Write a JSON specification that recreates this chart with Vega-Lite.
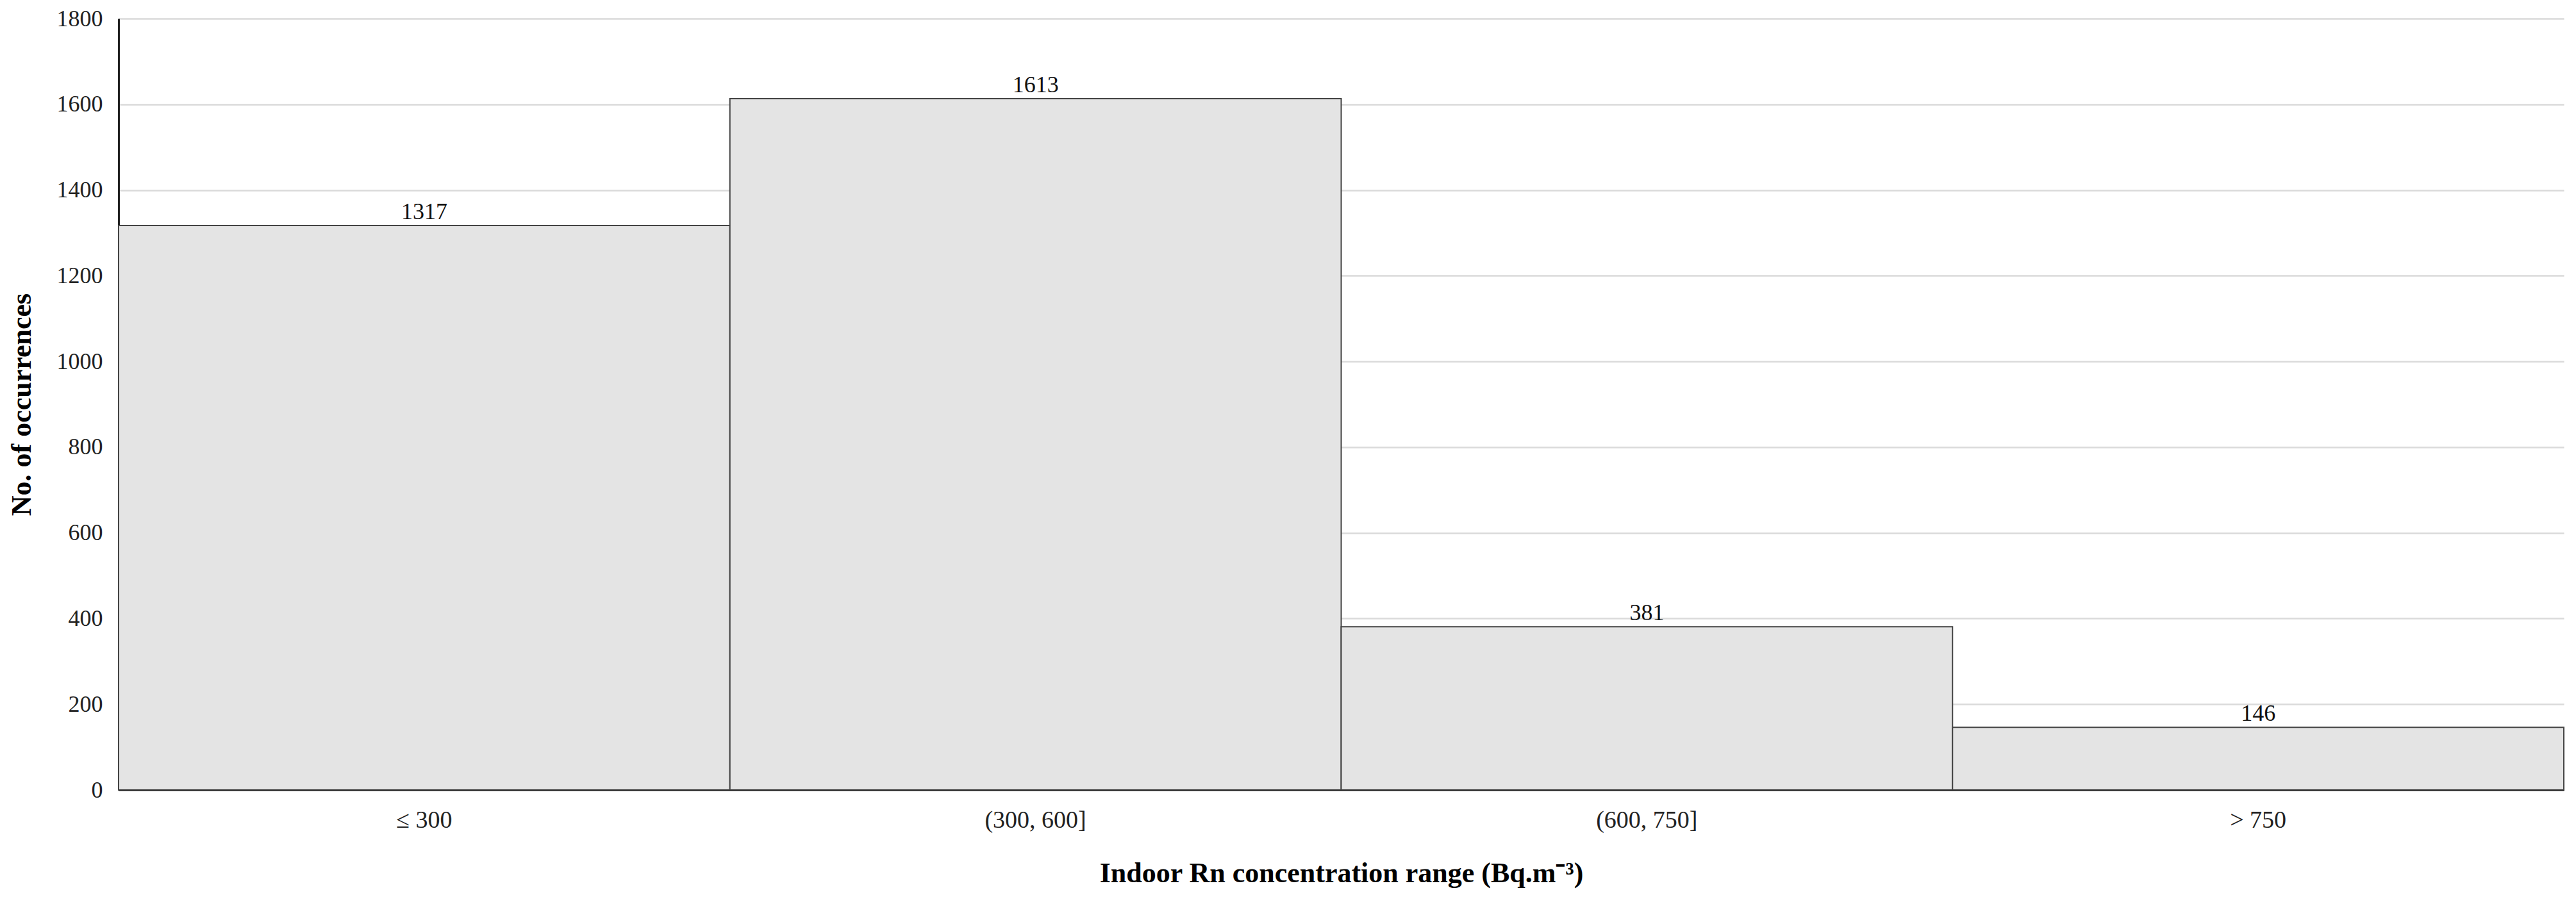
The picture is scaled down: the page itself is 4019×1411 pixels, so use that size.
{
  "$schema": "https://vega.github.io/schema/vega-lite/v6.json",
  "width": 3815,
  "height": 1204,
  "autosize": {"type": "none"},
  "padding": {"left": 185, "top": 29, "right": 19, "bottom": 178},
  "background": "white",
  "config": {
    "view": {"stroke": null},
    "axis": {"labelColor": "#222", "titleColor": "#000"}
  },
  "data": {
    "values": [
      {"range": "≤ 300", "count": 1317},
      {"range": "(300, 600]", "count": 1613},
      {"range": "(600, 750]", "count": 381},
      {"range": "> 750", "count": 146}
    ]
  },
  "encoding": {
    "x": {
      "field": "range",
      "type": "nominal",
      "sort": null,
      "scale": {"paddingInner": 0, "paddingOuter": 0},
      "axis": {
        "title": "Indoor Rn concentration range (Bq.m⁻³)",
        "titleFont": "Liberation Serif",
        "titleFontSize": 44,
        "titleFontWeight": "bold",
        "titleBaseline": "middle",
        "titleY": 130,
        "labelFont": "Liberation Sans Narrow",
        "labelFontSize": 38,
        "labelAngle": 0,
        "labelPadding": 28,
        "ticks": false,
        "domainColor": "#222",
        "domainWidth": 3,
        "grid": false
      }
    },
    "y": {
      "field": "count",
      "type": "quantitative",
      "scale": {"domain": [0, 1800], "nice": false},
      "axis": {
        "title": "No. of occurrences",
        "titleFont": "Liberation Serif",
        "titleFontSize": 44,
        "titleFontWeight": "bold",
        "titleBaseline": "middle",
        "titleAlign": "center",
        "titleX": -151,
        "titleY": 602,
        "titleAngle": -90,
        "format": "d",
        "values": [0, 200, 400, 600, 800, 1000, 1200, 1400, 1600, 1800],
        "labelFont": "Liberation Serif",
        "labelFontSize": 36,
        "labelPadding": 25,
        "ticks": false,
        "domainColor": "#222",
        "domainWidth": 3,
        "grid": true,
        "gridColor": "#dadada",
        "gridWidth": 2.5
      }
    }
  },
  "layer": [
    {
      "mark": {"type": "bar", "fill": "#e4e4e4", "stroke": "#444", "strokeWidth": 2}
    },
    {
      "mark": {
        "type": "text",
        "font": "Liberation Serif",
        "fontSize": 36,
        "baseline": "alphabetic",
        "dy": -10,
        "color": "#111"
      },
      "encoding": {"text": {"field": "count", "type": "quantitative", "format": "d"}}
    }
  ]
}
